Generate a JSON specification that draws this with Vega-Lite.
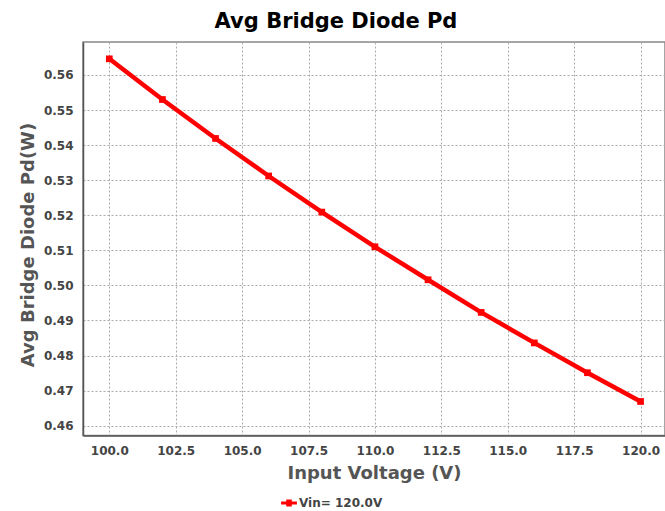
{
  "$schema": "https://vega.github.io/schema/vega-lite/v6.json",
  "autosize": {"type": "none"},
  "width": 582,
  "height": 393.5,
  "padding": {"left": 83, "top": 42, "right": 0, "bottom": 75.5},
  "background": "white",
  "title": {
    "text": "Avg Bridge Diode Pd",
    "font": "DejaVu Sans",
    "fontSize": 21,
    "fontWeight": "bold",
    "color": "#000000",
    "anchor": "middle",
    "dx": -38,
    "baseline": "alphabetic",
    "offset": -7
  },
  "config": {
    "view": {"stroke": "#888888", "strokeWidth": 1.5},
    "font": "DejaVu Sans"
  },
  "data": {
    "values": [
      {"vin": 100, "pd": 0.5646, "series": "Vin= 120.0V"},
      {"vin": 102, "pd": 0.5530, "series": "Vin= 120.0V"},
      {"vin": 104, "pd": 0.5419, "series": "Vin= 120.0V"},
      {"vin": 106, "pd": 0.5312, "series": "Vin= 120.0V"},
      {"vin": 108, "pd": 0.5209, "series": "Vin= 120.0V"},
      {"vin": 110, "pd": 0.5110, "series": "Vin= 120.0V"},
      {"vin": 112, "pd": 0.5016, "series": "Vin= 120.0V"},
      {"vin": 114, "pd": 0.4923, "series": "Vin= 120.0V"},
      {"vin": 116, "pd": 0.4836, "series": "Vin= 120.0V"},
      {"vin": 118, "pd": 0.4751, "series": "Vin= 120.0V"},
      {"vin": 120, "pd": 0.4669, "series": "Vin= 120.0V"}
    ]
  },
  "encoding": {
    "x": {
      "field": "vin",
      "type": "quantitative",
      "scale": {"domain": [99.01, 120.92], "nice": false, "zero": false},
      "axis": {
        "title": "Input Voltage (V)",
        "values": [100, 102.5, 105, 107.5, 110, 112.5, 115, 117.5, 120],
        "format": ".1f",
        "labelFont": "DejaVu Sans",
        "labelFontSize": 12,
        "labelFontWeight": "bold",
        "labelColor": "#444444",
        "labelPadding": 10,
        "ticks": false,
        "domainColor": "#555555",
        "domainWidth": 1.5,
        "grid": true,
        "gridColor": "#aaaaaa",
        "gridDash": [2, 2],
        "gridWidth": 1,
        "titleFont": "DejaVu Sans",
        "titleFontSize": 18,
        "titleFontWeight": "bold",
        "titleColor": "#555555",
        "titlePadding": 8
      }
    },
    "y": {
      "field": "pd",
      "type": "quantitative",
      "scale": {"domain": [0.4572, 0.5694], "nice": false, "zero": false},
      "axis": {
        "title": "Avg Bridge Diode Pd(W)",
        "values": [0.46, 0.47, 0.48, 0.49, 0.5, 0.51, 0.52, 0.53, 0.54, 0.55, 0.56],
        "format": ".2f",
        "labelFont": "DejaVu Sans",
        "labelFontSize": 12,
        "labelFontWeight": "bold",
        "labelColor": "#444444",
        "labelPadding": 10,
        "ticks": false,
        "domainColor": "#555555",
        "domainWidth": 1.5,
        "grid": true,
        "gridColor": "#aaaaaa",
        "gridDash": [2, 2],
        "gridWidth": 1,
        "titleFont": "DejaVu Sans",
        "titleFontSize": 18,
        "titleFontWeight": "bold",
        "titleColor": "#555555",
        "titlePadding": 6,
        "titleY": 202.5
      }
    }
  },
  "layer": [
    {
      "mark": {"type": "line", "strokeWidth": 4.5},
      "encoding": {
        "color": {
          "field": "series",
          "type": "nominal",
          "scale": {"range": ["#ff0000"]},
          "legend": {
            "title": null,
            "orient": "none",
            "legendX": 198,
            "legendY": 453,
            "symbolType": "M-1,-0.2H-0.35V-0.45H0.35V-0.2H1V0.2H0.35V0.45H-0.35V0.2H-1Z",
            "symbolSize": 250,
            "symbolStrokeWidth": 0,
            "symbolFillColor": "#ff0000",
            "labelFont": "DejaVu Sans",
            "labelFontSize": 12,
            "labelFontWeight": "bold",
            "labelColor": "#444444",
            "labelOffset": 2,
            "encode": {"symbols": {"update": {"fill": {"value": "#ff0000"}, "strokeWidth": {"value": 0}}}}
          }
        }
      }
    },
    {
      "mark": {"type": "point", "shape": "square", "filled": true, "size": 45, "opacity": 1, "color": "#ff0000"}
    }
  ]
}
